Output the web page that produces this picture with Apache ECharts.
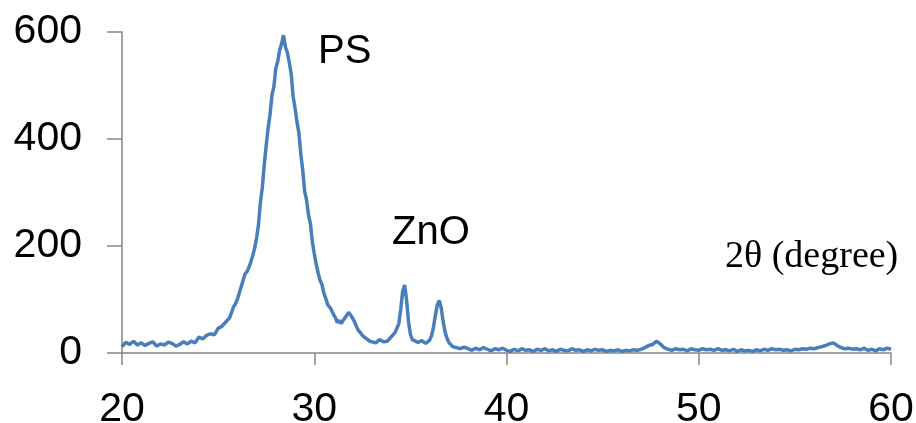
<!DOCTYPE html>
<html>
<head>
<meta charset="utf-8">
<script src="https://cdn.jsdelivr.net/npm/echarts@6/dist/echarts.min.js"></script>
<style>
  html, body { margin: 0; padding: 0; background: #fff; }
  #chart { width: 916px; height: 423px; }
</style>
</head>
<body>
<div id="chart"></div>
<script>
// x ticks / y ticks
var xTicks = [20, 30, 40, 50, 60];
var yTicks = [0, 200, 400, 600];

// [2theta, intensity]
var scanLow = [
  [20.0, 12], [20.2, 20], [20.4, 16], [20.6, 22], [20.8, 15], [21.0, 19], [21.2, 14], [21.4, 18],
  [21.6, 21], [21.8, 13], [22.0, 17], [22.2, 15], [22.4, 20], [22.6, 18], [22.8, 13], [23.0, 16],
  [23.2, 21], [23.4, 17], [23.6, 22], [23.8, 19], [24.0, 30], [24.2, 26], [24.4, 33], [24.6, 36],
  [24.8, 34], [25.0, 46], [25.2, 50], [25.4, 58], [25.6, 66], [25.8, 86]
];
var psPeak = [
  [25.9, 92], [26.0, 100], [26.1, 112], [26.2, 124], [26.3, 136], [26.4, 148], [26.5, 152], [26.6, 160],
  [26.7, 170], [26.8, 182], [26.9, 196], [27.0, 215], [27.1, 240], [27.2, 282], [27.3, 310], [27.4, 352],
  [27.5, 388], [27.6, 420], [27.7, 446], [27.8, 482], [27.9, 498], [28.0, 532], [28.1, 545], [28.2, 566],
  [28.3, 578], [28.4, 594], [28.5, 572], [28.6, 562], [28.7, 543], [28.8, 522], [28.9, 480], [29.0, 458],
  [29.1, 432], [29.2, 412], [29.3, 372], [29.4, 342], [29.5, 302], [29.6, 286], [29.7, 258], [29.8, 242],
  [29.9, 208], [30.0, 186], [30.1, 166], [30.2, 150], [30.3, 136], [30.4, 128], [30.5, 112], [30.6, 102],
  [30.7, 90], [30.8, 86], [30.9, 80]
];
var znoPeaks = [
  [31.0, 72], [31.1, 66], [31.2, 57], [31.3, 61], [31.4, 55], [31.5, 61], [31.6, 66], [31.7, 71],
  [31.8, 76], [31.9, 73], [32.0, 65], [32.1, 58], [32.2, 49], [32.3, 42], [32.4, 38], [32.5, 33],
  [32.6, 30], [32.7, 27], [32.8, 25], [32.9, 22], [33.0, 24], [33.2, 19], [33.4, 25], [33.6, 21],
  [33.8, 22], [34.0, 30], [34.2, 38], [34.4, 55], [34.5, 82], [34.6, 115], [34.7, 127], [34.8, 100],
  [34.9, 60], [35.0, 35], [35.1, 25], [35.2, 22], [35.4, 20], [35.6, 23], [35.8, 18], [36.0, 24],
  [36.1, 32], [36.2, 48], [36.3, 70], [36.4, 90], [36.5, 98], [36.6, 85], [36.7, 60], [36.8, 40],
  [36.9, 28], [37.0, 20], [37.2, 12], [37.4, 10], [37.6, 8], [37.8, 11]
];
var tail = [
  [38.0, 8], [38.2, 5], [38.4, 9], [38.6, 6], [38.8, 10], [39.0, 7], [39.2, 4], [39.4, 8], [39.6, 6],
  [39.8, 9], [40.0, 5], [40.2, 3], [40.4, 7], [40.6, 4], [40.8, 8], [41.0, 5], [41.2, 6], [41.4, 3],
  [41.6, 7], [41.8, 5], [42.0, 8], [42.2, 4], [42.4, 6], [42.6, 3], [42.8, 7], [43.0, 5], [43.2, 4],
  [43.4, 8], [43.6, 5], [43.8, 6], [44.0, 3], [44.2, 6], [44.4, 4], [44.6, 7], [44.8, 5], [45.0, 6],
  [45.2, 3], [45.4, 5], [45.6, 4], [45.8, 6], [46.0, 3], [46.2, 5], [46.4, 4], [46.6, 6], [46.8, 5],
  [47.0, 7], [47.2, 10], [47.4, 14], [47.6, 16], [47.8, 22], [48.0, 17], [48.2, 10], [48.4, 7],
  [48.6, 5], [48.8, 8], [49.0, 6], [49.2, 7], [49.4, 4], [49.6, 8], [49.8, 6], [50.0, 5], [50.2, 8],
  [50.4, 6], [50.6, 7], [50.8, 5], [51.0, 8], [51.2, 5], [51.4, 6], [51.6, 4], [51.8, 7], [52.0, 3],
  [52.2, 6], [52.4, 4], [52.6, 5], [52.8, 3], [53.0, 6], [53.2, 4], [53.4, 7], [53.6, 5], [53.8, 8],
  [54.0, 6], [54.2, 7], [54.4, 5], [54.6, 6], [54.8, 4], [55.0, 7], [55.2, 6], [55.4, 8], [55.6, 7],
  [55.8, 9], [56.0, 8], [56.2, 10], [56.4, 12], [56.6, 14], [56.8, 17], [57.0, 19], [57.2, 14],
  [57.4, 10], [57.6, 8], [57.8, 9], [58.0, 7], [58.2, 8], [58.4, 6], [58.6, 9], [58.8, 5], [59.0, 7],
  [59.2, 4], [59.4, 8], [59.6, 6], [59.8, 9], [60.0, 7]
];

var pattern = scanLow.concat(psPeak, znoPeaks, tail);

var myChart = echarts.init(document.getElementById('chart'));
myChart.setOption({
  animation: false,
  backgroundColor: '#fff',
  grid: { left: 122, right: 25, top: 32, bottom: 70, outerBoundsMode: 'none', containLabel: false },
  xAxis: {
    type: 'value',
    min: xTicks[0],
    max: xTicks[xTicks.length - 1],
    interval: 10,
    axisLine: { show: true, onZero: false, lineStyle: { color: '#868686', width: 1.5 } },
    axisTick: { show: true, length: 12, lineStyle: { color: '#868686', width: 1.5 } },
    splitLine: { show: false },
    axisLabel: { color: '#000', fontSize: 41, fontFamily: 'Liberation Sans, Arial', margin: 36 }
  },
  yAxis: {
    type: 'value',
    min: yTicks[0],
    max: yTicks[yTicks.length - 1],
    interval: 200,
    axisLine: { show: true, lineStyle: { color: '#868686', width: 1.5 } },
    axisTick: { show: true, length: 15, lineStyle: { color: '#868686', width: 1.5 } },
    splitLine: { show: false },
    axisLabel: { color: '#000', fontSize: 41, fontFamily: 'Liberation Sans, Arial', margin: 40 }
  },
  graphic: [
    { type: 'text', left: 318, top: 32, style: { text: 'PS', fontSize: 40, fontFamily: 'Liberation Sans, Arial', fill: '#000' } },
    { type: 'text', left: 392, top: 213, style: { text: 'ZnO', fontSize: 40, fontFamily: 'Liberation Sans, Arial', fill: '#000' } },
    { type: 'text', left: 725, top: 238, style: { text: '2θ (degree)', fontSize: 38, fontFamily: 'Liberation Serif, Times New Roman', fill: '#000' } }
  ],
  series: [{
    name: 'XRD',
    type: 'line',
    data: pattern,
    showSymbol: false,
    symbol: 'none',
    lineStyle: { color: '#4a7ebb', width: 3.5 },
    z: 3
  }]
});
</script>
</body>
</html>
